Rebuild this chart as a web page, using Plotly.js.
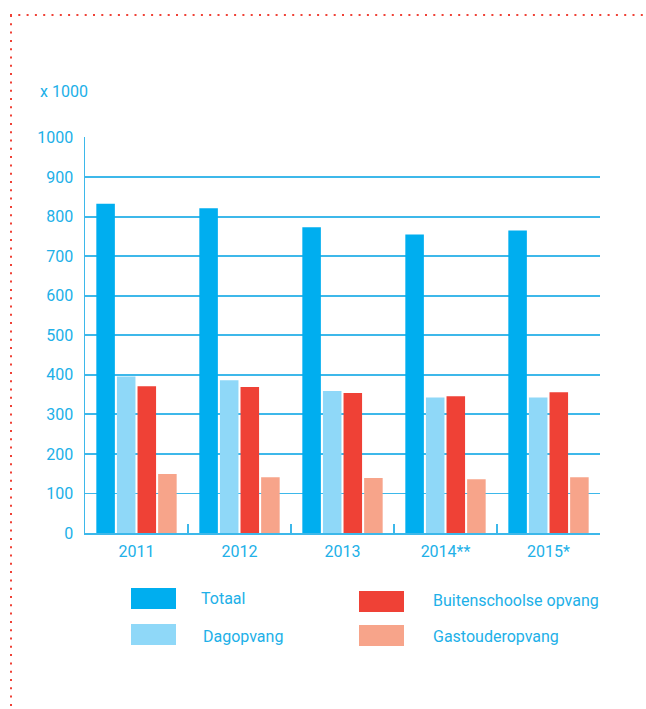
<!DOCTYPE html>
<html>
<head>
<meta charset="utf-8">
<script src="https://cdn.plot.ly/plotly-3.0.1.min.js"></script>
<style>
  html, body { margin: 0; padding: 0; background: #ffffff; }
  #chart { width: 646px; height: 709px; }
</style>
</head>
<body>
<div id="chart"></div>
<script>
// ---- data ----
const years = ["2011", "2012", "2013", "2014**", "2015*"];
const seriesNames = ["Totaal", "Dagopvang", "Buitenschoolse opvang", "Gastouderopvang"];
const totaal = [833, 821, 773, 755, 765];
const dagopvang = [396, 386, 359, 343, 343];
const buitenschoolse = [371, 369, 354, 346, 356];
const gastouder = [149, 141, 139, 136, 141];
const yTicks = [0, 100, 200, 300, 400, 500, 600, 700, 800, 900, 1000];
const unitLabel = "x 1000";

// ---- styling ----
const colors = ["#00aeef", "#8fd8f8", "#ef4136", "#f7a48a"];
const textColor = "#21b0e8";
const lineColor = "#3db8ea";
const fontFamily = "Roboto, 'Open Sans', sans-serif";

const W = 646, H = 709;
const M = { l: 85, r: 46, t: 137, b: 176 };
const PW = W - M.l - M.r, PH = H - M.t - M.b;
const px = x => (x - M.l) / PW;
const py = y => (H - M.b - y) / PH;

const values = [totaal, dagopvang, buitenschoolse, gastouder];
const traces = values.map((v, i) => ({
  type: "bar",
  name: seriesNames[i],
  x: years,
  y: v,
  marker: { color: colors[i], line: { width: 0 } },
  hoverinfo: "x+y+name",
  showlegend: false
}));

// custom legend (two columns)
const legendPos = [
  { sx: 131, sy: 588, tx: 199, ty: 598 },
  { sx: 131, sy: 624, tx: 201, ty: 636 },
  { sx: 359, sy: 591, tx: 431, ty: 600 },
  { sx: 359, sy: 625, tx: 431, ty: 636 }
];
const shapes = [];
const annotations = [];
legendPos.forEach((p, i) => {
  shapes.push({
    type: "rect", xref: "paper", yref: "paper",
    x0: px(p.sx), x1: px(p.sx + 45), y0: py(p.sy), y1: py(p.sy + 21),
    fillcolor: colors[i], line: { width: 0 }
  });
  annotations.push({
    xref: "paper", yref: "paper", x: px(p.tx), y: py(p.ty),
    xanchor: "left", yanchor: "middle", showarrow: false,
    text: seriesNames[i], font: { family: fontFamily, size: 16, color: textColor }
  });
});
annotations.push({
  xref: "paper", yref: "paper", x: px(38), y: py(91),
  xanchor: "left", yanchor: "middle", showarrow: false,
  text: unitLabel, font: { family: fontFamily, size: 16, color: textColor }
});

// dotted frame (top & left)
const dotColor = "#ef4136";
shapes.push({
  type: "line", xref: "paper", yref: "paper",
  x0: px(10), x1: px(646), y0: py(15), y1: py(15),
  line: { color: dotColor, width: 2, dash: "2px,6.3px" }
});
shapes.push({
  type: "line", xref: "paper", yref: "paper",
  x0: px(11), x1: px(11), y0: py(15), y1: py(709),
  line: { color: dotColor, width: 2, dash: "2px,6.3px" }
});

const layout = {
  width: W, height: H,
  margin: M,
  paper_bgcolor: "#ffffff",
  plot_bgcolor: "#ffffff",
  barmode: "group",
  bargap: 0.2,
  bargroupgap: 0.1,
  font: { family: fontFamily, size: 16, color: textColor },
  xaxis: {
    type: "category",
    showline: true, linecolor: lineColor, linewidth: 2,
    ticks: "inside", tickson: "boundaries", ticklen: 9, tickwidth: 1.5, tickcolor: lineColor,
    showgrid: false, zeroline: false,
    ticklabelstandoff: 3,
    tickfont: { family: fontFamily, size: 16, color: textColor },
    fixedrange: true
  },
  yaxis: {
    range: [0, 1001.5],
    tickvals: yTicks,
    ticktext: yTicks.map(String),
    showline: true, linecolor: lineColor, linewidth: 1.5,
    showgrid: true, gridcolor: lineColor, gridwidth: 1.8,
    zeroline: false,
    ticks: "", ticklabelstandoff: 7,
    tickfont: { family: fontFamily, size: 16, color: textColor },
    fixedrange: true
  },
  shapes: shapes,
  annotations: annotations,
  showlegend: false
};

Plotly.newPlot("chart", traces, layout, { displayModeBar: false, staticPlot: true });
</script>
</body>
</html>
